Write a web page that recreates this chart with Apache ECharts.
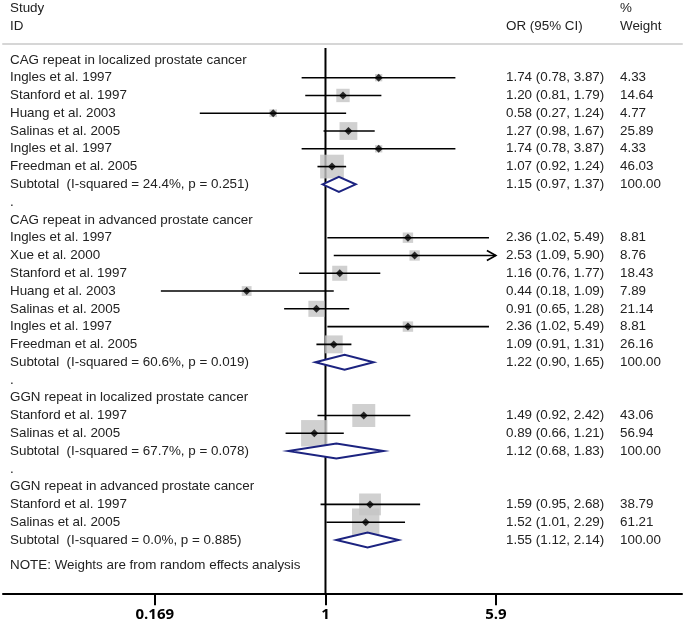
<!DOCTYPE html>
<html><head><meta charset="utf-8">
<script src="https://cdn.jsdelivr.net/npm/echarts@6/dist/echarts.min.js"></script>
<style>html,body{margin:0;padding:0;background:#fff}#c{width:685px;height:624px}</style>
</head><body><div id="c"></div>
<script>
// ---- data ----
const rowLabels = [
  "CAG repeat in localized prostate cancer",
  "Ingles et al. 1997", "Stanford et al. 1997", "Huang et al. 2003", "Salinas et al. 2005", "Ingles et al. 1997", "Freedman et al. 2005",
  "Subtotal  (I-squared = 24.4%, p = 0.251)",
  ".",
  "CAG repeat in advanced prostate cancer",
  "Ingles et al. 1997", "Xue et al. 2000", "Stanford et al. 1997", "Huang et al. 2003", "Salinas et al. 2005", "Ingles et al. 1997", "Freedman et al. 2005",
  "Subtotal  (I-squared = 60.6%, p = 0.019)",
  ".",
  "GGN repeat in localized prostate cancer",
  "Stanford et al. 1997", "Salinas et al. 2005",
  "Subtotal  (I-squared = 67.7%, p = 0.078)",
  ".",
  "GGN repeat in advanced prostate cancer",
  "Stanford et al. 1997", "Salinas et al. 2005",
  "Subtotal  (I-squared = 0.0%, p = 0.885)"
];
// h = group header, s = study, t = subtotal, b = blank
const rowTypes = ["h","s","s","s","s","s","s","t","b","h","s","s","s","s","s","s","s","t","b","h","s","s","t","b","h","s","s","t"];
const orValues = [null,1.74,1.20,0.58,1.27,1.74,1.07,1.15,null,null,2.36,2.53,1.16,0.44,0.91,2.36,1.09,1.22,null,null,1.49,0.89,1.12,null,null,1.59,1.52,1.55];
const ciLow    = [null,0.78,0.81,0.27,0.98,0.78,0.92,0.97,null,null,1.02,1.09,0.76,0.18,0.65,1.02,0.91,0.90,null,null,0.92,0.66,0.68,null,null,0.95,1.01,1.12];
const ciHigh   = [null,3.87,1.79,1.24,1.67,3.87,1.24,1.37,null,null,5.49,5.90,1.77,1.09,1.28,5.49,1.31,1.65,null,null,2.42,1.21,1.83,null,null,2.68,2.29,2.14];
const weights  = [null,4.33,14.64,4.77,25.89,4.33,46.03,100.00,null,null,8.81,8.76,18.43,7.89,21.14,8.81,26.16,100.00,null,null,43.06,56.94,100.00,null,null,38.79,61.21,100.00];
const tickValues = [0.169, 1, 5.9];
const tickLabels = ["0.169", "1", "5.9"];
const headerTexts = {study: "Study", id: "ID", or: "OR (95% CI)", pct: "%", weight: "Weight"};
const noteText = "NOTE: Weights are from random effects analysis";

// ---- helpers ----
const f2 = v => v.toFixed(2);
const orText = orValues.map((v,i) => v == null ? "" : f2(v) + " (" + f2(ciLow[i]) + ", " + f2(ciHigh[i]) + ")");
const wText = weights.map(v => v == null ? "" : f2(v));
const ln = Math.log;
const FONT = '13.4px "Liberation Sans", Arial, sans-serif';
const TXT = '#222';

const X_MIN = -3.359, X_MAX = 3.7135;

const studyRows = [], totalRows = [];
rowTypes.forEach((t,i) => { if (t === 's') studyRows.push(i); if (t === 't') totalRows.push(i); });

const chart = echarts.init(document.getElementById('c'), null, {renderer: 'canvas'});
chart.setOption({
  animation: false,
  backgroundColor: '#fff',
  grid: {left: 3, right: 3, top: 43.9, bottom: 30.7},
  xAxis: [{
    type: 'value', min: X_MIN, max: X_MAX, position: 'bottom',
    axisLine: {show: true, onZero: false, lineStyle: {color: '#000', width: 2}},
    axisTick: {show: true, customValues: tickValues.map(v => ln(v)), length: 12, lineStyle: {color: '#000', width: 2}},
    axisLabel: {show: true, customValues: tickValues.map(v => ln(v)), margin: 14,
      formatter: v => { const k = tickValues.findIndex(t => Math.abs(ln(t) - v) < 1e-6); return k >= 0 ? tickLabels[k] : ''; },
      fontFamily: '"Open Sans", sans-serif', fontWeight: 'bold', fontSize: 15, color: '#000'},
    splitLine: {show: false}
  }, {
    type: 'value', min: X_MIN, max: X_MAX, position: 'top',
    axisLine: {show: true, onZero: false, lineStyle: {color: '#d6d6d6', width: 2}},
    axisTick: {show: false}, axisLabel: {show: false}, splitLine: {show: false}
  }],
  yAxis: {type: 'value', inverse: true, min: -0.9, max: 30, show: false},
  graphic: [
    {type: 'text', left: 10, top: 2, style: {text: headerTexts.study, font: FONT, fill: TXT}},
    {type: 'text', left: 10, top: 20, style: {text: headerTexts.id, font: FONT, fill: TXT}},
    {type: 'text', left: 506, top: 20, style: {text: headerTexts.or, font: FONT, fill: TXT}},
    {type: 'text', left: 620, top: 2, style: {text: headerTexts.pct, font: FONT, fill: TXT}},
    {type: 'text', left: 620, top: 20, style: {text: headerTexts.weight, font: FONT, fill: TXT}},
    {type: 'text', left: 10, top: 559, style: {text: noteText, font: FONT, fill: TXT}}
  ],
  series: [
    { // reference line at OR = 1
      type: 'custom', silent: true, z: 1,
      data: [[0, -0.67, 30]],
      renderItem: (p, api) => {
        const a = api.coord([api.value(0), api.value(1)]);
        const b = api.coord([api.value(0), api.value(2)]);
        return {type: 'line', shape: {x1: a[0], y1: a[1], x2: b[0], y2: b[1]}, style: {stroke: '#000', lineWidth: 2}};
      }
    },
    { // weight boxes
      type: 'scatter', silent: true, z: 2,
      symbol: 'rect',
      symbolSize: v => 3.5 * Math.sqrt(v[2]),
      itemStyle: {color: '#c4c4c4'},
      data: studyRows.map(i => [ln(orValues[i]), i, weights[i]])
    },
    { // confidence intervals
      type: 'custom', silent: true, z: 3,
      data: studyRows.map(i => [ln(ciLow[i]), i, ln(ciHigh[i]), ciHigh[i] >= tickValues[tickValues.length - 1] ? 1 : 0]),
      renderItem: (p, api) => {
        const a = api.coord([api.value(0), api.value(1)]);
        const b = api.coord([api.value(2), api.value(1)]);
        const ch = [{type: 'line', shape: {x1: a[0], y1: a[1], x2: b[0], y2: b[1]}, style: {stroke: '#000', lineWidth: 1.6}}];
        if (api.value(3)) ch.push({type: 'polyline', shape: {points: [[b[0] - 9, b[1] - 5], [b[0], b[1]], [b[0] - 9, b[1] + 5]]}, style: {stroke: '#000', lineWidth: 1.6, fill: null}});
        return {type: 'group', children: ch};
      }
    },
    { // point estimates
      type: 'scatter', silent: true, z: 4,
      symbol: 'diamond', symbolSize: 8,
      itemStyle: {color: '#000'},
      data: studyRows.map(i => [ln(orValues[i]), i])
    },
    { // subtotal diamonds
      type: 'custom', silent: true, z: 4,
      data: totalRows.map(i => [ln(ciLow[i]), i, ln(ciHigh[i]), ln(orValues[i])]),
      renderItem: (p, api) => {
        const l = api.coord([api.value(0), api.value(1)]);
        const r = api.coord([api.value(2), api.value(1)]);
        const m = api.coord([api.value(3), api.value(1)]);
        return {type: 'polygon', shape: {points: [[l[0], l[1]], [m[0], m[1] - 7.5], [r[0], r[1]], [m[0], m[1] + 7.5]]},
          style: {stroke: '#1c2380', lineWidth: 2, fill: '#fff'}};
      }
    },
    { // text columns
      type: 'custom', silent: true, z: 5,
      data: rowLabels.map((t, i) => [0, i]),
      renderItem: (p, api) => {
        const i = p.dataIndex;
        const y = api.coord([0, api.value(1)])[1];
        const ch = [{type: 'text', style: {text: rowLabels[i], x: 10, y: y, font: FONT, fill: TXT, verticalAlign: 'middle'}}];
        if (orText[i]) ch.push({type: 'text', style: {text: orText[i], x: 506, y: y, font: FONT, fill: TXT, verticalAlign: 'middle'}});
        if (wText[i]) ch.push({type: 'text', style: {text: wText[i], x: 620, y: y, font: FONT, fill: TXT, verticalAlign: 'middle'}});
        return {type: 'group', children: ch};
      }
    }
  ]
});
</script>
</body></html>
